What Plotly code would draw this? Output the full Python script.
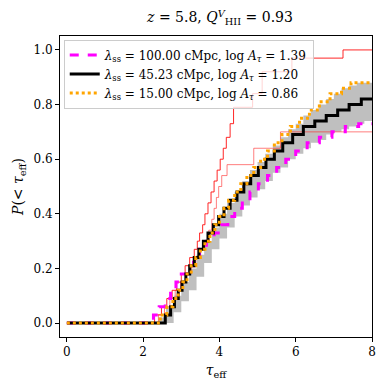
import plotly.graph_objects as go

# CDF step data (tau_eff where the step happens, CDF value after it)
tau_magenta = [0, 2.27, 2.42, 2.58, 2.72, 2.86, 3.00, 3.16, 3.32, 3.48, 3.66, 3.86, 4.04, 4.22,
               4.40, 4.60, 4.80, 5.02, 5.26, 5.50, 5.74, 6.00, 6.30, 6.62, 6.95, 7.30, 7.65, 8.0]
cdf_magenta = [0, 0.03, 0.06, 0.09, 0.12, 0.15, 0.18, 0.21, 0.24, 0.27, 0.30, 0.33, 0.36, 0.39,
               0.42, 0.45, 0.48, 0.51, 0.54, 0.57, 0.60, 0.63, 0.66, 0.68, 0.70, 0.72, 0.73, 0.73]

tau_black = [0, 2.58, 2.72, 2.82, 2.92, 3.02, 3.12, 3.22, 3.34, 3.46, 3.58, 3.70, 3.84, 3.98,
             4.12, 4.28, 4.46, 4.64, 4.82, 5.02, 5.22, 5.44, 5.66, 5.92, 6.20, 6.50, 6.80, 7.10,
             7.40, 7.72, 8.0]
cdf_black = [0, 0.03, 0.06, 0.09, 0.12, 0.15, 0.18, 0.21, 0.24, 0.27, 0.30, 0.33, 0.36, 0.39,
             0.42, 0.45, 0.48, 0.51, 0.54, 0.57, 0.60, 0.63, 0.66, 0.69, 0.72, 0.74, 0.76, 0.78,
             0.80, 0.82, 0.82]

tau_orange = [0, 2.45, 2.62, 2.78, 2.92, 3.04, 3.15, 3.26, 3.38, 3.50, 3.62, 3.75, 3.88, 4.00,
              4.12, 4.24, 4.40, 4.56, 4.72, 4.90, 5.08, 5.26, 5.44, 5.64, 5.86, 6.10, 6.36, 6.62,
              6.90, 7.20, 7.45, 8.0]
cdf_orange = [0, 0.03, 0.06, 0.09, 0.12, 0.15, 0.18, 0.21, 0.24, 0.27, 0.30, 0.33, 0.36, 0.39,
              0.42, 0.45, 0.48, 0.51, 0.54, 0.57, 0.60, 0.63, 0.66, 0.69, 0.72, 0.75, 0.78, 0.81,
              0.84, 0.86, 0.88, 0.88]

# observed CDFs (thin red)
tau_obs1 = [0, 2.30, 2.48, 2.62, 2.76, 2.88, 3.00, 3.10, 3.22, 3.34, 3.42, 3.48, 3.56, 3.62,
            3.70, 3.78, 3.86, 3.94, 4.02, 4.10, 4.18, 4.28, 4.37, 4.87, 5.12, 5.90, 7.24, 8.0]
cdf_obs1 = [0, 0.03, 0.06, 0.09, 0.12, 0.15, 0.18, 0.21, 0.24, 0.27, 0.30, 0.33, 0.36, 0.40,
            0.44, 0.48, 0.52, 0.56, 0.60, 0.64, 0.68, 0.73, 0.79, 0.84, 0.92, 0.97, 1.0, 1.0]

tau_obs2 = [0, 2.40, 2.56, 2.70, 2.84, 2.98, 3.12, 3.26, 3.38, 3.50, 3.62, 3.72, 3.80, 3.86,
            3.92, 3.98, 4.06, 4.20, 4.90, 5.60, 8.0]
cdf_obs2 = [0, 0.03, 0.06, 0.09, 0.12, 0.15, 0.18, 0.21, 0.24, 0.27, 0.30, 0.34, 0.38, 0.42,
            0.46, 0.50, 0.54, 0.58, 0.64, 0.70, 0.70]

# grey scatter band around the black model
tau_band = [2.2, 2.4, 2.6, 2.8, 3.0, 3.2, 3.4, 3.6, 3.8, 4.0, 4.2, 4.4, 4.6, 4.8, 5.0,
            5.2, 5.4, 5.6, 5.8, 6.0, 6.2, 6.4, 6.6, 6.8, 7.0, 7.2, 7.4, 7.6, 7.8, 8.0]
band_hi = [0, 0.02, 0.06, 0.10, 0.15, 0.20, 0.25, 0.30, 0.35, 0.40, 0.44, 0.48, 0.52, 0.56, 0.59,
           0.62, 0.65, 0.68, 0.71, 0.73, 0.76, 0.78, 0.80, 0.82, 0.84, 0.86, 0.87, 0.88, 0.88, 0.88]
band_lo = [0, 0, 0, 0.04, 0.08, 0.12, 0.17, 0.22, 0.27, 0.31, 0.35, 0.39, 0.43, 0.46, 0.49,
           0.52, 0.55, 0.57, 0.60, 0.62, 0.64, 0.66, 0.67, 0.69, 0.70, 0.71, 0.72, 0.73, 0.74, 0.74]

labels = [
    "<i>λ</i><sub>ss</sub> = 100.00 cMpc, log <i>A<sub>τ</sub></i> = 1.39",
    "<i>λ</i><sub>ss</sub> = 45.23 cMpc, log <i>A<sub>τ</sub></i> = 1.20",
    "<i>λ</i><sub>ss</sub> = 15.00 cMpc, log <i>A<sub>τ</sub></i> = 0.86",
]

fig = go.Figure()

fig.add_trace(go.Scatter(x=tau_band, y=band_lo, mode="lines", line=dict(width=0, shape="hv"),
                         showlegend=False, hoverinfo="skip"))
fig.add_trace(go.Scatter(x=tau_band, y=band_hi, mode="lines", line=dict(width=0, shape="hv"),
                         fill="tonexty", fillcolor="#bfbfbf", showlegend=False, hoverinfo="skip"))

fig.add_trace(go.Scatter(x=tau_obs1, y=cdf_obs1, mode="lines", showlegend=False,
                         line=dict(color="rgba(255,0,0,0.85)", width=1, shape="hv")))
fig.add_trace(go.Scatter(x=tau_obs2, y=cdf_obs2, mode="lines", showlegend=False,
                         line=dict(color="rgba(255,40,40,0.6)", width=1, shape="hv")))

fig.add_trace(go.Scatter(x=tau_magenta, y=cdf_magenta, mode="lines", name=labels[0],
                         line=dict(color="magenta", width=3, dash="dash", shape="hv")))
fig.add_trace(go.Scatter(x=tau_black, y=cdf_black, mode="lines", name=labels[1],
                         line=dict(color="black", width=3, shape="hv")))
fig.add_trace(go.Scatter(x=tau_orange, y=cdf_orange, mode="lines", name=labels[2],
                         line=dict(color="orange", width=3, dash="dot", shape="hv")))

axis_style = dict(showline=True, mirror=True, linecolor="black", linewidth=1,
                  ticks="outside", ticklen=4, tickcolor="black", showgrid=False,
                  zeroline=False, automargin=False, tickfont=dict(size=12))

# the page body adds an 8px offset, so the figure is a bit smaller than the window
fig.update_layout(
    width=382, height=382,
    margin=dict(l=52, r=18, t=28, b=53),
    paper_bgcolor="white", plot_bgcolor="white",
    font=dict(family="DejaVu Serif", size=12, color="black"),
    title=dict(text="<i>z</i> = 5.8, <i>Q</i><sup><i>V</i></sup><sub>HII</sub> = 0.93",
               x=0.555, xanchor="center", y=0.975, yanchor="middle", font=dict(size=14)),
    xaxis=dict(range=[-0.18, 8.0], tickvals=[0, 2, 4, 6, 8],
               title=dict(text="<i>τ</i><sub>eff</sub>", standoff=6), **axis_style),
    yaxis=dict(range=[-0.051, 1.051], tickvals=[0, 0.2, 0.4, 0.6, 0.8, 1.0], tickformat=".1f",
               title=dict(text="<i>P</i>(< <i>τ</i><sub>eff</sub>)", standoff=6), **axis_style),
    legend=dict(x=0.012, y=0.988, xanchor="left", yanchor="top", traceorder="normal",
                bgcolor="rgba(255,255,255,0.8)", bordercolor="#cccccc", borderwidth=1,
                font=dict(size=12), itemwidth=30, tracegroupgap=0),
    showlegend=True,
)

fig.write_html("out.html")
